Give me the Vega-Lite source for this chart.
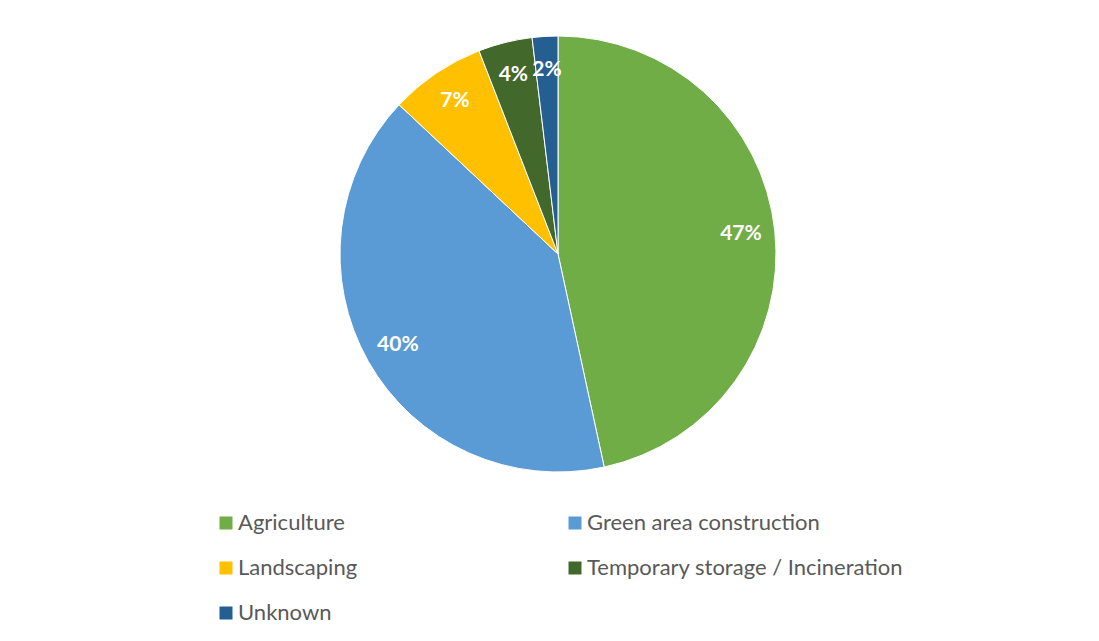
{
  "$schema": "https://vega.github.io/schema/vega-lite/v6.json",
  "width": 436,
  "height": 436,
  "autosize": "none",
  "padding": {"left": 340, "top": 36, "right": 323, "bottom": 169},
  "background": "white",
  "config": {"view": {"stroke": null}},
  "data": {
    "values": [
      {"use": "Agriculture", "share": 0.466},
      {"use": "Green area construction", "share": 0.404},
      {"use": "Landscaping", "share": 0.071},
      {"use": "Temporary storage / Incineration", "share": 0.040},
      {"use": "Unknown", "share": 0.019}
    ]
  },
  "encoding": {
    "theta": {"field": "share", "type": "quantitative", "stack": true},
    "order": {"field": "use", "type": "nominal", "sort": "ascending"}
  },
  "layer": [
    {
      "mark": {"type": "arc", "outerRadius": 218, "stroke": "white", "strokeWidth": 1},
      "encoding": {
        "color": {
          "field": "use",
          "type": "nominal",
          "scale": {
            "domain": ["Agriculture", "Green area construction", "Landscaping", "Temporary storage / Incineration", "Unknown"],
            "range": ["#70AD47", "#5B9BD5", "#FFC000", "#43682B", "#255E91"]
          },
          "legend": {
            "title": null,
            "orient": "none",
            "legendX": -125,
            "legendY": 476,
            "direction": "horizontal",
            "columns": 2,
            "symbolType": "square",
            "symbolSize": 169,
            "symbolStrokeWidth": 0,
            "labelFont": "Lato",
            "labelFontSize": 22,
            "labelColor": "#595959",
            "labelOffset": 1,
            "labelLimit": 0,
            "rowPadding": 23,
            "columnPadding": 206
          }
        }
      }
    },
    {
      "mark": {"type": "text", "radius": 184, "font": "Lato", "fontSize": 21, "fontWeight": "bold", "fill": "white"},
      "encoding": {
        "text": {"field": "share", "type": "quantitative", "format": ".0%"}
      }
    }
  ]
}
